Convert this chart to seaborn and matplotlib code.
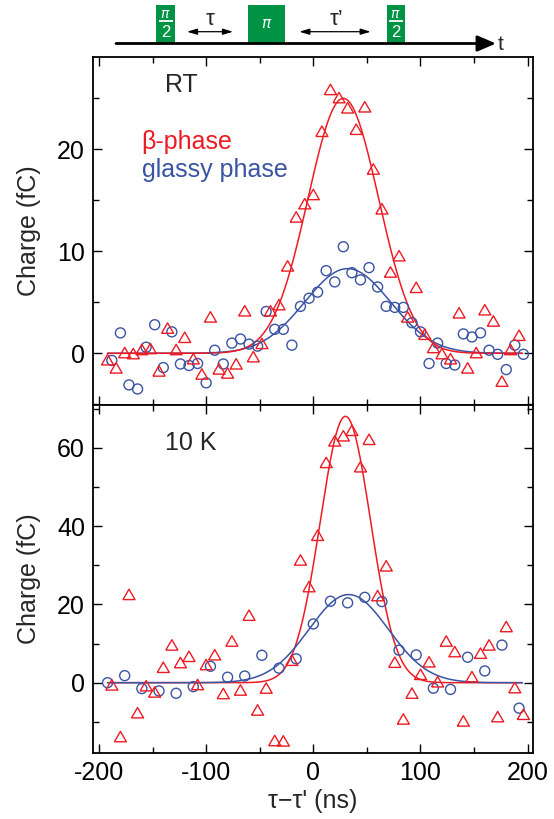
import numpy as np
import pandas as pd
import matplotlib
matplotlib.use("Agg")
import matplotlib.pyplot as plt
from matplotlib.patches import Rectangle
from matplotlib.markers import MarkerStyle
from matplotlib.ticker import MultipleLocator
import seaborn as sns

# ---------------- data ----------------
# Room temperature, beta-phase (triangles)
rt_beta_delay = [-192, -184, -176, -168, -160, -152, -144, -136, -128, -120, -112, -104,
                 -96, -88, -80, -72, -64, -56, -48, -40, -32, -24, -16, -8, 0, 8, 16, 24,
                 32, 40, 48, 56, 64, 72, 80, 88, 96, 104, 112, 120, 128, 136, 144, 152,
                 160, 168, 176, 184, 192]
rt_beta_charge = [-0.8, -1.6, -0.1, -0.2, 0.2, 0.3, -1.9, 2.3, 0.2, 1.4, -0.7, -2.2,
                  3.4, -1.7, -2.1, -1.2, 4.0, -0.5, 0.8, 4.0, 4.6, 8.4, 13.2, 14.5, 15.4,
                  21.6, 25.7, 24.9, 23.9, 21.8, 24.0, 17.9, 14.0, 7.8, 9.4, 3.4, 6.3, 1.7,
                  0.4, -0.2, -0.7, 3.8, -1.6, -0.1, 4.1, 3.0, -2.9, 0.2, 1.6]

# Room temperature, glassy phase (circles)
rt_glassy_delay = [-188, -180, -172, -164, -156, -148, -140, -132, -124, -116, -108, -100,
                   -92, -84, -76, -68, -60, -52, -44, -36, -28, -20, -12, -4, 4, 12, 20,
                   28, 36, 44, 52, 60, 68, 76, 84, 92, 100, 108, 116, 124, 132, 140, 148,
                   156, 164, 172, 180, 188, 196]
rt_glassy_charge = [-0.7, 2.0, -3.1, -3.5, 0.6, 2.8, -1.4, 2.1, -1.05, -1.2, -1.0, -2.9,
                    0.3, -1.05, 1.0, 1.4, 0.9, 0.7, 4.1, 2.35, 2.35, 0.8, 4.6, 5.4, 6.0,
                    8.1, 7.0, 10.45, 7.9, 7.2, 8.4, 6.5, 4.6, 4.5, 4.5, 3.0, 2.1, -1.0,
                    1.0, -1.0, -1.15, 1.9, 1.6, 2.0, 0.3, -0.1, -1.6, 0.8, -0.1]

# 10 K, beta-phase (triangles)
lt_beta_delay = [-188, -180, -172, -164, -156, -148, -140, -132, -124, -116, -108, -100,
                 -92, -84, -76, -68, -60, -52, -44, -36, -28, -20, -12, -4, 4, 12, 20,
                 28, 36, 44, 52, 60, 68, 76, 84, 92, 100, 108, 116, 124, 132, 140, 148,
                 156, 164, 172, 180, 188, 196]
lt_beta_charge = [-1.0, -14.2, 22.1, -8.1, -1.2, -2.8, 3.5, 9.2, 4.7, 6.3, -0.9, 4.2,
                  6.7, -3.2, 10.2, -2.3, 16.8, -7.4, -1.8, -15.2, -15.3, 5.3, 30.9, 24.1,
                  37.2, 55.8, 61.3, 62.6, 64.0, 54.7, 61.7, 21.8, 29.4, 4.8, -9.7, -3.1,
                  1.7, 4.9, -0.2, 10.2, 7.5, -10.2, 1.1, 7.1, 9.2, -9.1, 13.9, -1.7, -8.5]

# 10 K, glassy phase (circles)
lt_glassy_delay = [-192, -176, -160, -144, -128, -112, -96, -80, -64, -48, -32, -16, 0,
                   16, 32, 48, 64, 80, 96, 112, 128, 144, 160, 176, 192]
lt_glassy_charge = [0.0, 1.8, -1.5, -2.1, -2.7, -1.0, 4.2, 1.4, 1.7, 7.0, 3.7, 6.1, 15.0,
                    20.8, 20.4, 21.8, 20.7, 8.3, 7.1, -1.4, -1.7, 6.5, 3.0, 9.6, -6.5]

# Gaussian fit parameters: amplitude (fC), centre (ns), width (ns)
rt_beta_fit = [25.0, 28.0, 33.0]
rt_glassy_fit = [8.3, 32.0, 40.0]
lt_beta_fit = [68.0, 30.0, 23.5]
lt_glassy_fit = [22.5, 33.0, 37.0]
fit_range = [-192, 195]

x_ticks = [-200, -100, 0, 100, 200]

# ---------------- style ----------------
RED = "#ED1C24"
BLUE = "#3A54A4"
GREEN = "#009245"

sns.set_theme(style="ticks")
plt.rcParams["font.family"] = ["Liberation Sans", "DejaVu Sans"]
plt.rcParams["axes.unicode_minus"] = False
plt.rcParams["mathtext.fontset"] = "dejavusans"

W, H = 554, 819
fig = plt.figure(figsize=(W / 100, H / 100), dpi=100)

left, width = 93.3 / W, (532.7 - 93.3) / W
ax_top = fig.add_axes([left, 1 - 405 / H, width, (405 - 56.7) / H])
ax_bot = fig.add_axes([left, 1 - 752.7 / H, width, (752.7 - 405) / H])

# equilateral triangle marker
tri = MarkerStyle([(-1.0, -0.5774), (1.0, -0.5774), (0.0, 1.1547), (-1.0, -0.5774)])


def gaussian_curve(params):
    amp, cen, wid = params
    xs = np.linspace(fit_range[0], fit_range[1], 600)
    return pd.DataFrame({"x": xs, "y": amp * np.exp(-0.5 * ((xs - cen) / wid) ** 2)})


def draw_panel(ax, beta_x, beta_y, glassy_x, glassy_y, beta_fit, glassy_fit, blue_on_top):
    bf = gaussian_curve(beta_fit)
    gf = gaussian_curve(glassy_fit)
    z_red, z_blue = (2, 3) if blue_on_top else (3, 2)
    sns.lineplot(data=bf, x="x", y="y", ax=ax, color=RED, lw=1.1, zorder=z_red)
    sns.lineplot(data=gf, x="x", y="y", ax=ax, color=BLUE, lw=1.1, zorder=z_blue)
    sns.scatterplot(x=glassy_x, y=glassy_y, ax=ax, marker="o", s=7.2 ** 2,
                    facecolors="none", edgecolor=BLUE, linewidth=1.0, zorder=4)
    sns.scatterplot(x=beta_x, y=beta_y, ax=ax, marker=tri, s=10.0 ** 2,
                    facecolors="none", edgecolor=RED, linewidth=1.0, zorder=5)


draw_panel(ax_top, rt_beta_delay, rt_beta_charge, rt_glassy_delay, rt_glassy_charge,
           rt_beta_fit, rt_glassy_fit, blue_on_top=False)
draw_panel(ax_bot, lt_beta_delay, lt_beta_charge, lt_glassy_delay, lt_glassy_charge,
           lt_beta_fit, lt_glassy_fit, blue_on_top=True)

for ax in (ax_top, ax_bot):
    ax.set_xlim(-205.3, 204.7)
    ax.set_xticks(x_ticks)
    ax.xaxis.set_minor_locator(MultipleLocator(50))
    ax.tick_params(which="both", direction="in", top=True, right=True,
                   width=1.0, labelsize=18, pad=6, colors="black")
    ax.tick_params(which="major", length=6.7)
    ax.tick_params(which="minor", length=4.0)
    for sp in ax.spines.values():
        sp.set_linewidth(1.3)
        sp.set_color("black")
    ax.set_ylabel("Charge (fC)", fontsize=18)
    ax.yaxis.set_label_coords(-0.118, 0.5)
    ax.set_xlabel("")

ax_top.set_ylim(-5.07, 29.08)
ax_top.yaxis.set_major_locator(MultipleLocator(10))
ax_top.yaxis.set_minor_locator(MultipleLocator(5))
ax_top.tick_params(labelbottom=False)

ax_bot.set_ylim(-17.87, 70.9)
ax_bot.yaxis.set_major_locator(MultipleLocator(20))
ax_bot.yaxis.set_minor_locator(MultipleLocator(10))
ax_bot.set_xticklabels([str(v) for v in x_ticks])
ax_bot.set_xlabel("τ\u2212τ' (ns)", fontsize=18)
ax_bot.xaxis.set_label_coords(0.5, -0.105)

ax_top.text(0.163, 0.8995, "RT", transform=ax_top.transAxes, fontsize=18,
            ha="left", va="baseline")
ax_top.text(0.110, 0.734, "β-phase", transform=ax_top.transAxes, fontsize=18,
            color=RED, ha="left", va="baseline")
ax_top.text(0.110, 0.654, "glassy phase", transform=ax_top.transAxes, fontsize=18,
            color=BLUE, ha="left", va="baseline")
ax_bot.text(0.163, 0.8706, "10 K", transform=ax_bot.transAxes, fontsize=18,
            ha="left", va="baseline")

# ---------------- pulse sequence sketch ----------------
diag = fig.add_axes([0, 1 - 60 / H, 1, 60 / H])
diag.set_xlim(0, W)
diag.set_ylim(60, 0)
diag.axis("off")

for x0, x1 in [(156, 175), (248.3, 285), (386.5, 405)]:
    diag.add_patch(Rectangle((x0, 5), x1 - x0, 38, facecolor=GREEN, edgecolor="none"))
for xc in (165.5, 395.7):
    diag.text(xc, 14.5, r"$\pi$", color="white", ha="center", va="center", fontsize=10)
    diag.plot([xc - 7, xc + 7], [20.8, 20.8], color="white", lw=1.3,
              solid_capstyle="butt")
    diag.text(xc, 32.5, "2", color="white", ha="center", va="center", fontsize=12)
diag.text(266.6, 24.5, r"$\pi$", color="white", ha="center", va="center", fontsize=11)

diag.annotate("", xy=(496, 43.5), xytext=(116, 43.5),
              arrowprops=dict(arrowstyle="-|>,head_length=0.7,head_width=0.3",
                              lw=2.0, color="black", shrinkA=0, shrinkB=0,
                              mutation_scale=16))
diag.text(498, 44.5, "t", ha="left", va="center", fontsize=15)

for xa, xb in [(187, 233), (299.3, 370.7)]:
    diag.annotate("", xy=(xb, 31.7), xytext=(xa, 31.7),
                  arrowprops=dict(arrowstyle="<|-|>,head_length=0.6,head_width=0.18",
                                  lw=0.9, color="black", shrinkA=0, shrinkB=0,
                                  mutation_scale=10))
diag.text(210, 19.5, "τ", ha="center", va="center", fontsize=16)
diag.text(336, 19.5, "τ\u2019", ha="center", va="center", fontsize=16)

fig.savefig("out.png", dpi=100)
